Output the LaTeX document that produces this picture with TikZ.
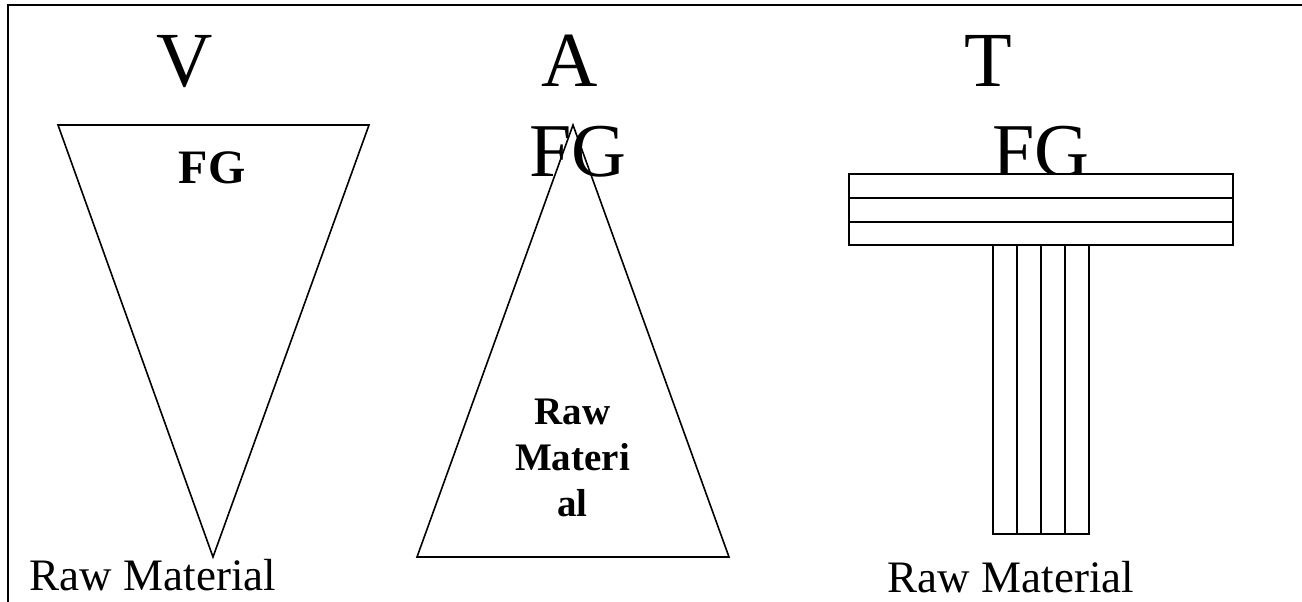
\documentclass[tikz,border=0pt]{standalone}
\usepackage{fontspec}
\setmainfont{Liberation Serif}
\begin{document}
\begin{tikzpicture}[x=1pt,y=-1pt,
  shape line/.style={draw=black,line width=1.6pt,line join=miter},
  big letter/.style={inner sep=0pt,anchor=base,font=\fontsize{78}{90}\selectfont},
  big label/.style={inner sep=0pt,anchor=base,font=\fontsize{76}{88}\selectfont},
  bold label/.style={inner sep=0pt,anchor=base,font=\bfseries\fontsize{48}{56}\selectfont},
  small bold/.style={inner sep=0pt,anchor=north,align=center,font=\bfseries\fontsize{39}{46}\selectfont},
  foot label/.style={inner sep=0pt,anchor=base,font=\fontsize{45}{52}\selectfont}]
\useasboundingbox (0,0) rectangle (1302,602);
\fill[white] (0,0) rectangle (1302,602);

% frame edges (top and left only)
\draw[line width=2pt] (1302,5) -- (8,5) -- (8,602);

% type letters
\node[big letter] (vtitle) at (185,87) {V};
\node[big letter] (atitle) at (570,87) {A};
\node[big letter] (ttitle) at (988,87) {T};

% V: inverted triangle
\draw[shape line] (58,125) -- (369,125) -- (213,557) -- cycle;
\node[bold label] (vfg) at (212,183) {FG};
\node[foot label] (vraw) at (153,590) {Raw Material};

% A: triangle drawn over its label
\node[big label] (afg) at (578,176) {FG};
\draw[shape line] (573,125) -- (729,557) -- (417,557) -- cycle;
\node[small bold] (araw) at (572.5,399) {Raw\\Materi\\al};

% T: horizontal bar on a vertical stem
\node[big label] (tfg) at (1041,176) {FG};
\draw[shape line,fill=white] (849,174) rectangle (1233,245);
\draw[shape line] (849,198) -- (1233,198);
\draw[shape line] (849,222) -- (1233,222);
\draw[shape line] (993,245) rectangle (1089,534);
\foreach \xx in {1017,1041,1065}
  \draw[shape line] (\xx,245) -- (\xx,534);
\node[foot label] (traw) at (1011,592) {Raw Material};
\end{tikzpicture}
\end{document}
